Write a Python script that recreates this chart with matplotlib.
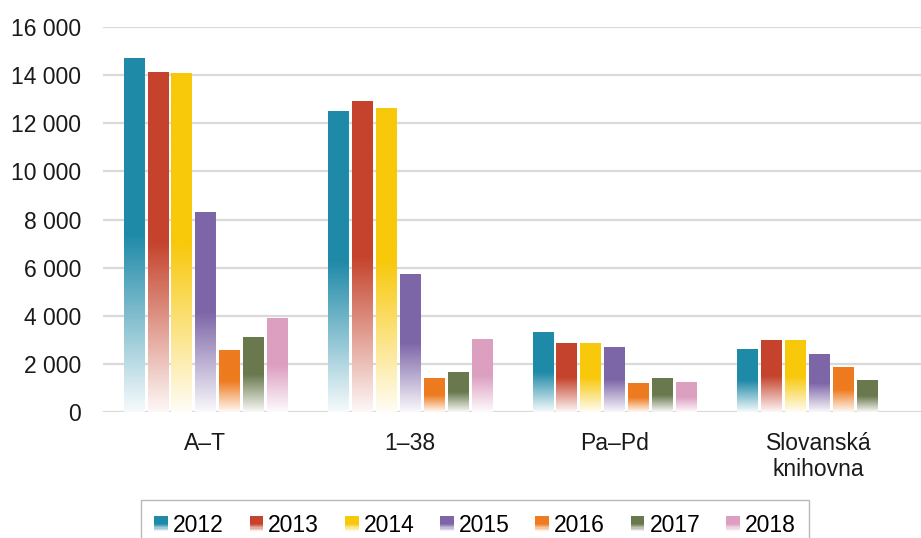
import numpy as np
import matplotlib.pyplot as plt
from matplotlib.colors import to_rgb
from matplotlib.patches import Rectangle
from matplotlib.legend_handler import HandlerBase

plt.rcParams['font.family'] = ['Liberation Sans', 'DejaVu Sans']

categories = ['A–T', '1–38', 'Pa–Pd', 'Slovanská\nknihovna']
years = ['2012', '2013', '2014', '2015', '2016', '2017', '2018']
colors = ['#1f8aa8', '#c5432c', '#f8c80a', '#7d66a8', '#ee7b1f', '#6a794d', '#dc9fc0']

v2012 = [14730, 12520, 3310, 2600]
v2013 = [14150, 12940, 2850, 2980]
v2014 = [14100, 12650, 2850, 2980]
v2015 = [8310, 5730, 2690, 2400]
v2016 = [2560, 1400, 1190, 1850]
v2017 = [3100, 1650, 1400, 1310]
v2018 = [3900, 3020, 1230, 0]
series = [v2012, v2013, v2014, v2015, v2016, v2017, v2018]

FS = 16.5


def gradient(color, n=200):
    c = np.array(to_rgb(color))
    t = np.linspace(0, 1, n)
    m = np.clip(0.04 + 0.96 * t / 0.5, 0, 1)
    img = (1 - m)[:, None] * np.ones(3) + m[:, None] * c
    return img[:, None, :]


class GradHandler(HandlerBase):
    def create_artists(self, legend, orig_handle, xdescent, ydescent,
                       width, height, fontsize, trans):
        c = np.array(to_rgb(orig_handle.get_facecolor()))
        arts = []
        n = 12
        for i in range(n):
            t = (i + 0.5) / n
            m = min(1.0, 0.04 + 0.96 * t / 0.5)
            col = (1 - m) * np.ones(3) + m * c
            r = Rectangle((-xdescent, -ydescent + height * i / n), width, height / n + 0.3,
                          facecolor=col, edgecolor='none', transform=trans)
            arts.append(r)
        return arts


fig = plt.figure(figsize=(9.21, 5.38), dpi=100)
ax = fig.add_axes([0.112, 0.235, 0.888, 0.714])

x = np.arange(len(categories))
step = 0.117
width = 0.098
handles = []
for i, (vals, col) in enumerate(zip(series, colors)):
    off = (i - 3) * step
    for xi, v in zip(x, vals):
        if v <= 0:
            continue
        ax.imshow(gradient(col), extent=[xi + off - width / 2, xi + off + width / 2, 0, v],
                  origin='lower', aspect='auto', interpolation='bilinear', zorder=2)
    handles.append(Rectangle((0, 0), 1, 1, facecolor=col))

ax.set_xlim(-0.5, 3.5)
ax.set_ylim(0, 16000)
ax.set_yticks(np.arange(0, 16001, 2000))
ax.set_yticklabels(['0' if t == 0 else f'{t // 1000} 000' for t in range(0, 16001, 2000)])
ax.set_xticks(x)
ax.set_xticklabels(categories)
ax.tick_params(axis='both', length=0, labelsize=FS, colors='#1a1a1a')
ax.tick_params(axis='y', pad=16)
ax.tick_params(axis='x', pad=14.5)
ax.grid(axis='y', color='#d9d9d9', linewidth=1.6, zorder=0)
ax.set_axisbelow(True)
for s in ax.spines.values():
    s.set_visible(False)

leg = fig.legend(handles, years, loc='upper center', bbox_to_anchor=(0.5157, 0.0706),
                 ncol=7, fontsize=FS, frameon=True, fancybox=False,
                 handlelength=0.6, handleheight=0.6, handletextpad=0.22,
                 columnspacing=1.12, borderpad=0.6, borderaxespad=0,
                 handler_map={Rectangle: GradHandler()})
leg.get_frame().set_edgecolor('#a6a6a6')
leg.get_frame().set_linewidth(1.0)

fig.savefig('out.png', dpi=100)
